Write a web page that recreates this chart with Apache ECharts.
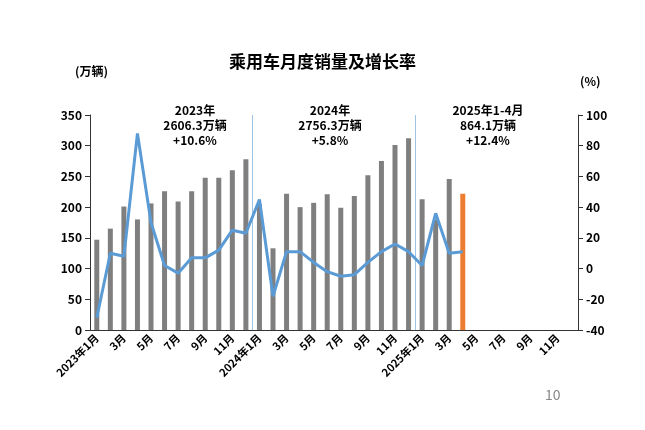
<!DOCTYPE html><html><head><meta charset="utf-8"><script src="https://cdn.jsdelivr.net/npm/echarts@6/dist/echarts.min.js"></script></head><body style="margin:0"><div id="c" style="width:645px;height:430px"></div><script>
const months=[];for(const y of [2023,2024,2025])for(let m=1;m<=12;m++)months.push(m===1?y+'年1月':m+'月');
const sales=[147,165,201,180,206,226,209,226,248,248,260,278, 205,133,222,200,207,221,199,218,252,275,301,312, 213,180,246,222];
const growth=[-32,10,8,88,30,2,-3,7,7,12,25,23, 45,-18,11,11,4,-2,-5,-4,4,11,16,11, 2,36,10,11];
const notes=[['2023年\n2606.3万辆\n+10.6%',195],['2024年\n2756.3万辆\n+5.8%',330],['2025年1-4月\n864.1万辆\n+12.4%',488]];
const F='"Noto Sans CJK SC",sans-serif';
const ch=echarts.init(document.getElementById('c'));
ch.setOption({animation:false,
title:{text:'乘用车月度销量及增长率',left:'center',top:48,textStyle:{fontFamily:F,fontSize:17,fontWeight:'bold',color:'#000'}},
grid:{left:90,right:67,top:115,bottom:100},
xAxis:[{type:'category',data:months,axisTick:{show:false},axisLine:{lineStyle:{color:'#333'}},axisLabel:{interval:1,rotate:45,fontFamily:F,fontSize:11,fontWeight:'bold',color:'#000',margin:6}},
{type:'value',min:0,max:36,show:false}],
yAxis:[{type:'value',min:0,max:350,interval:50,splitLine:{show:false},axisLine:{show:true,lineStyle:{color:'#333'}},axisLabel:{fontFamily:F,fontSize:12,fontWeight:'bold',color:'#000'}},
{type:'value',min:-40,max:100,interval:20,splitLine:{show:false},axisLine:{show:true,lineStyle:{color:'#333'}},axisLabel:{fontFamily:F,fontSize:12,fontWeight:'bold',color:'#000'}}],
series:[{type:'bar',data:sales.map((v,i)=>({value:v,itemStyle:{color:i===27?'#ED7D31':'#7F7F7F'}})),barWidth:5},
{type:'line',yAxisIndex:1,data:growth,symbol:'none',lineStyle:{color:'#5B9BD5',width:3},z:5},
{type:'line',xAxisIndex:1,data:[],markLine:{silent:true,symbol:'none',label:{show:false},lineStyle:{color:'#9DC3E6',type:'solid',width:1},data:[{xAxis:12},{xAxis:24}]}}],
graphic:[{type:'text',left:75,top:65,style:{text:'(万辆)',font:'bold 12px '+F,fill:'#000'}},
{type:'text',left:580,top:75,style:{text:'(%)',font:'bold 12px '+F,fill:'#000'}},
{type:'text',left:545,top:388,style:{text:'10',font:'14px '+F,fill:'#888'}},
...notes.map(n=>({type:'text',x:n[1],y:103,style:{text:n[0],font:'bold 12px '+F,fill:'#000',textAlign:'center',lineHeight:15}}))]
});
</script></body></html>
